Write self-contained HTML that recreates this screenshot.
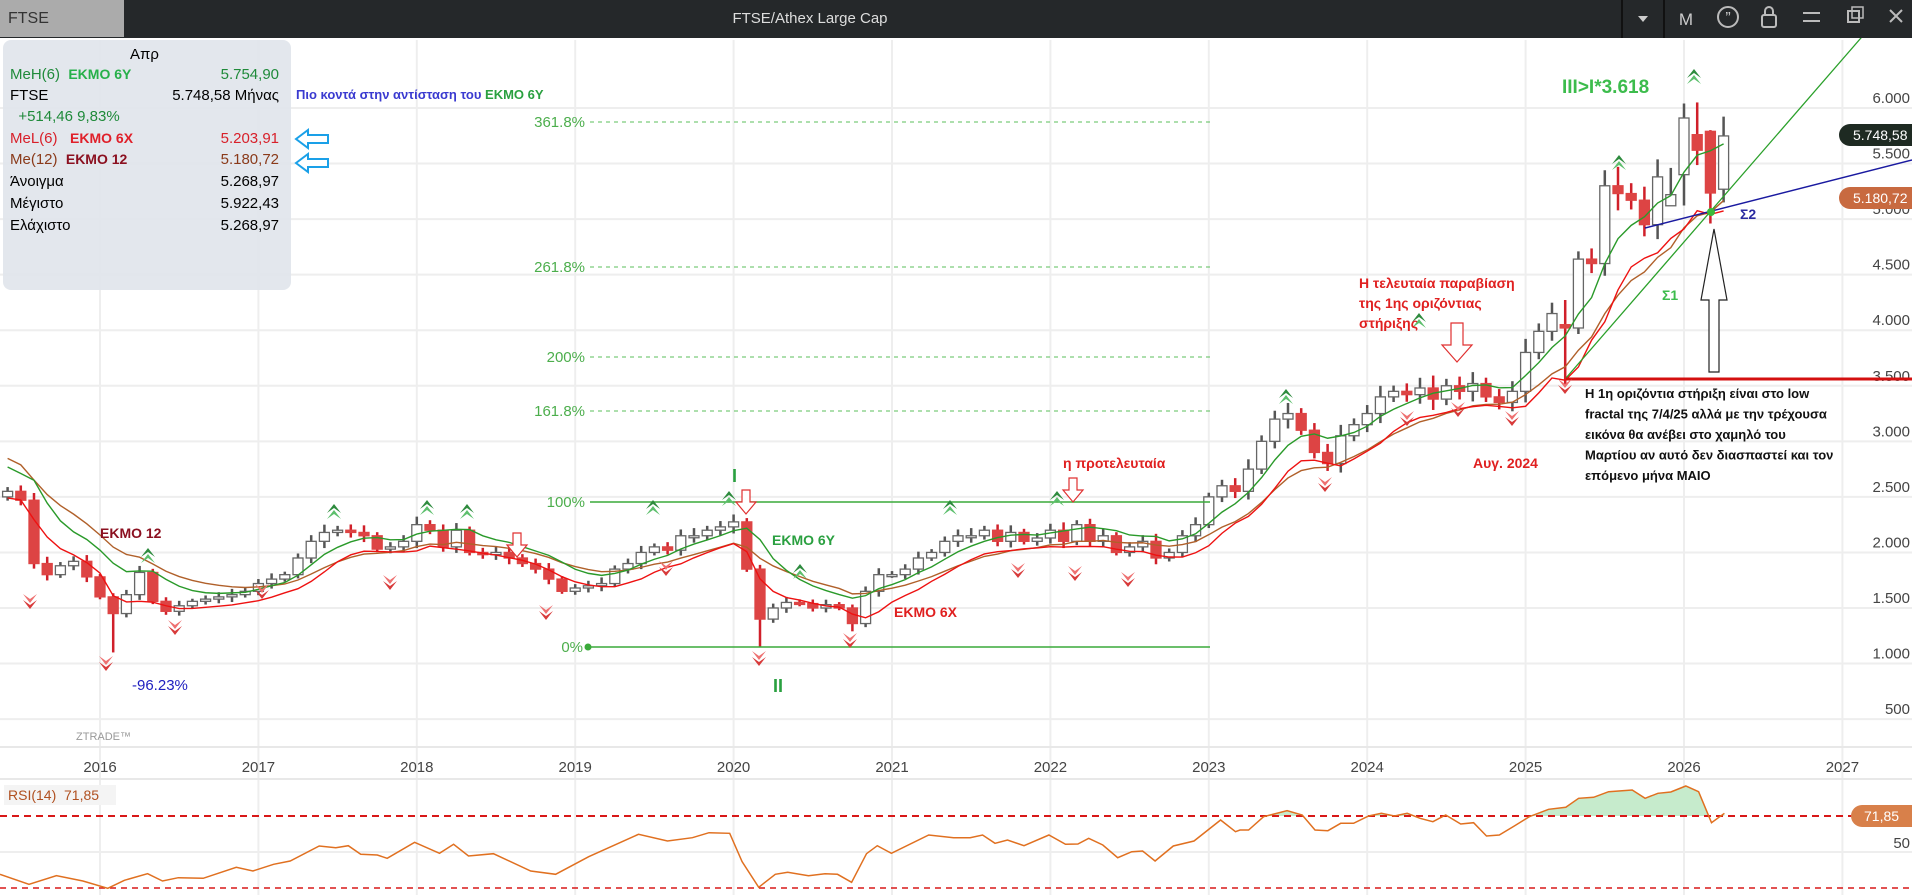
<!DOCTYPE html>
<html><head><meta charset="utf-8"><style>
html,body{margin:0;padding:0;background:#fff;width:1912px;height:895px;overflow:hidden;font-family:"Liberation Sans","DejaVu Sans",sans-serif}
#hdr{position:absolute;left:0;top:0;width:1912px;height:38px;background:#25282a}
#tab{position:absolute;left:0;top:0;width:124px;height:37px;background:#ababab;color:#333;font-size:16px;line-height:37px;padding-left:8px;box-sizing:border-box}
#ttl{position:absolute;left:0;width:1620px;top:0;text-align:center;color:#ddd;font-size:15px;line-height:38px}
#info{position:absolute;left:3px;top:40px;width:288px;height:250px;background:rgba(225,229,235,0.92);border-radius:8px;font-size:15px}
#info div{position:absolute;left:7px;right:12px;height:20px}
#info span.r{position:absolute;right:0}
svg{position:absolute;left:0;top:0}
</style></head><body>
<svg id="s" width="1912" height="895" xmlns="http://www.w3.org/2000/svg"></svg>
<div id="hdr"><div id="tab">FTSE</div><div id="ttl">FTSE/Athex Large Cap</div>
<svg width="1912" height="38" style="position:absolute;left:0;top:0">
<line x1="1622" y1="0" x2="1622" y2="38" stroke="#111" stroke-width="2"/><line x1="1664" y1="0" x2="1664" y2="38" stroke="#111" stroke-width="2"/>
<path d="M1638 16 L1648 16 L1643 22Z" fill="#ccc"/>
<text x="1686" y="25" fill="#ccc" font-size="17" text-anchor="middle">M</text>
<circle cx="1728" cy="17" r="10" fill="none" stroke="#bbb" stroke-width="2"/><text x="1728" y="23" fill="#ccc" font-size="16" text-anchor="middle">”</text>
<rect x="1762" y="15" width="14" height="12" rx="2" fill="none" stroke="#bbb" stroke-width="2"/><path d="M1765 15 v-4 a4 4 0 0 1 8 0 v4" fill="none" stroke="#bbb" stroke-width="2"/>
<line x1="1803" y1="13" x2="1820" y2="13" stroke="#bbb" stroke-width="2"/><line x1="1803" y1="21" x2="1820" y2="21" stroke="#bbb" stroke-width="2"/>
<rect x="1848" y="11" width="11" height="11" fill="none" stroke="#bbb" stroke-width="2"/><rect x="1852" y="7" width="11" height="11" fill="none" stroke="#bbb" stroke-width="1.5"/>
<path d="M1890 10 L1902 22 M1902 10 L1890 22" stroke="#bbb" stroke-width="2"/>
</svg></div>
<div id="info">
<div style="top:6px;text-align:center">Απρ</div>
<div style="top:26px;color:#1f8a3a">MeH(6) &nbsp;<b style="color:#27b04a;font-size:14px">ΕΚΜΟ 6Υ</b><span class="r">5.754,90</span></div>
<div style="top:47px">FTSE<span class="r">5.748,58 Μήνας</span></div>
<div style="top:68px;color:#1f8a3a">&nbsp;&nbsp;+514,46 9,83%</div>
<div style="top:90px;color:#d8202a">MeL(6) &nbsp;&nbsp;<b style="font-size:14px;color:#e0202a">ΕΚΜΟ 6Χ</b><span class="r">5.203,91</span></div>
<div style="top:111px;color:#8a3a1a">Me(12) &nbsp;<b style="font-size:14px;color:#8b1020">ΕΚΜΟ 12</b><span class="r">5.180,72</span></div>
<div style="top:133px">Άνοιγμα<span class="r">5.268,97</span></div>
<div style="top:155px">Μέγιστο<span class="r">5.922,43</span></div>
<div style="top:177px">Ελάχιστο<span class="r">5.268,97</span></div>
</div>
<script>
const S=document.getElementById('s');let h='';
const X=i=>100+i*13.2, Y=p=>108+(6000-p)*0.11111;
for(let p=500;p<=6000;p+=500){h+=`<line x1="0" y1="${Y(p)}" x2="1912" y2="${Y(p)}" stroke="#eeeeee" stroke-width="2"/>`;
 h+=`<text x="1910" y="${Y(p)-5}" font-size="15" fill="#444" text-anchor="end">${p>=1000?(Math.floor(p/1000)+'.'+String(p%1000).padStart(3,'0')):p}</text>`;}
for(let y=2016;y<=2027;y++){const x=X((y-2016)*12);h+=`<line x1="${x}" y1="40" x2="${x}" y2="895" stroke="#eeeeee" stroke-width="2"/>`;
 h+=`<text x="${x}" y="772" font-size="15" fill="#444" text-anchor="middle">${y}</text>`;}
h+=`<line x1="0" y1="747" x2="1912" y2="747" stroke="#e8e8e8" stroke-width="2"/><line x1="0" y1="779" x2="1912" y2="779" stroke="#e8e8e8" stroke-width="2"/><line x1="0" y1="852" x2="1912" y2="852" stroke="#eee" stroke-width="2"/>`;
h+=`<text x="1910" y="848" font-size="15" fill="#444" text-anchor="end">50</text>`;
const C=[2550,2470,1900,1800,1880,1920,1780,
1600,1450,1620,1820,1560,1470,1520,1560,1580,1600,1620,1650,
1720,1760,1800,1950,2100,2180,2200,2180,2150,2030,2050,2100,
2250,2200,2050,2200,2000,1980,2000,1950,1900,1850,1760,1650,
1680,1700,1720,1850,1900,2000,2050,2020,2150,2150,2200,2230,
2275,1850,1400,1500,1550,1540,1500,1530,1500,1360,1650,1800,
1800,1850,1950,2000,2100,2150,2150,2200,2100,2180,2100,2130,
2200,2100,2250,2100,2150,2000,2050,2100,1950,2000,2150,2250,
2500,2600,2550,2750,3000,3200,3250,3100,2900,2800,3050,3150,
3250,3400,3450,3420,3480,3380,3500,3450,3520,3400,3350,3450,
3800,3990,4150,4020,4640,4600,5300,5230,5170,4950,5380,5220,
5910,5620,5235,5748.58];
const st=-7,O=[],H=[],L=[];
for(let k=0;k<C.length;k++){let o=k?C[k-1]:2500;O.push(o);const r=Math.max(o,C[k]),m=Math.min(o,C[k]);
 const f=0.015+0.02*((k*37)%7)/7;H.push(r*(1+f));L.push(m*(1-f*0.9));}
const idx=(y,mo)=>(y-2016)*12+mo-1-st;
L[idx(2016,2)]=1100;L[idx(2020,3)]=1150;L[idx(2020,10)]=1290;L[idx(2025,4)]=3500;O[idx(2025,4)]=4050;
O[idx(2025,12)]=5120;O[idx(2026,1)]=5400;O[idx(2026,2)]=5760;H[idx(2026,2)]=6050;O[idx(2026,3)]=5790;L[idx(2026,3)]=4960;O[idx(2026,4)]=5268.97;H[idx(2026,4)]=5922;H[idx(2026,1)]=6040;
for(let k=0;k<C.length;k++){const x=X(k+st),o=O[k],c=C[k],up=c>=o;const col=up?'#555':'#d0202a';
 h+=`<line x1="${x}" y1="${Y(H[k])}" x2="${x}" y2="${Y(L[k])}" stroke="${col}" stroke-width="2.5"/>`;
 const t=Y(Math.max(o,c)),b=Y(Math.min(o,c));
 h+=`<rect x="${x-5}" y="${t}" width="10" height="${Math.max(b-t,2)}" fill="${up?'#fff':'#dd4444'}" stroke="${up?'#666':'#dd4444'}" stroke-width="1.3"/>`;}
function ema(a,n,s){const k=2/(n+1);let e=s;return a.map(v=>e=v*k+e*(1-k));}
function pl(a,col){return `<polyline fill="none" stroke="${col}" stroke-width="1.4" points="${a.map((v,i)=>X(i+st)+','+Y(v)).join(' ')}"/>`;}
const eh=ema(H,6,2900).map(v=>v*0.985),el=ema(L,6,2500),e12=ema(C,12,2900);
h+=pl(e12,'#b0602a')+pl(el,'#ee1111')+pl(eh,'#2a9a2a');
const fl=[[122,'361.8%'],[267,'261.8%'],[357,'200%'],[411,'161.8%']];
fl.forEach(f=>{h+=`<line x1="590" y1="${f[0]}" x2="1210" y2="${f[0]}" stroke="#5bbf5b" stroke-width="1" stroke-dasharray="4,4"/><text x="585" y="${f[0]+5}" font-size="15" fill="#4cae4c" text-anchor="end">${f[1]}</text>`;});
h+=`<line x1="590" y1="502" x2="1210" y2="502" stroke="#3aaa3a" stroke-width="1.5"/><text x="585" y="507" font-size="15" fill="#4cae4c" text-anchor="end">100%</text>`;
h+=`<line x1="588" y1="647" x2="1210" y2="647" stroke="#3aaa3a" stroke-width="1.5"/><circle cx="588" cy="647" r="3.5" fill="#3aaa3a"/><text x="583" y="652" font-size="15" fill="#4cae4c" text-anchor="end">0%</text>`;
h+=`<line x1="1566" y1="378" x2="1880" y2="16" stroke="#2aa02a" stroke-width="1.3"/>`;
h+=`<line x1="1645" y1="228" x2="1912" y2="160" stroke="#1a1aa0" stroke-width="1.5"/>`;
h+=`<line x1="1566" y1="379" x2="1912" y2="379" stroke="#d41010" stroke-width="3"/>`;
h+=`<circle cx="1711" cy="212" r="4" fill="#3aba3a"/>`;
h+=`<path d="M1709 372 V300 H1701 L1714 229 L1727 300 H1719 V372Z" fill="#fff" stroke="#222" stroke-width="1.2"/>`;
h+=`<path d="M1451 323 V345 H1442 L1457 362 L1472 345 H1463 V323Z" fill="#fff" stroke="#e03030" stroke-width="1.2"/>`;
[[517,533],[746,490],[1073,478]].forEach(a=>{h+=`<path d="M${a[0]-4} ${a[1]} v12 h-6 l10 12 l10 -12 h-6 v-12Z" fill="#fff" stroke="#e03030" stroke-width="1.2"/>`;});
const up=[[148,552],[334,508],[427,504],[467,508],[653,504],[729,495],[800,568],[950,504],[1057,495],[1286,393],[1419,317],[1619,159],[1694,73]];
up.forEach(a=>{h+=`<path d="M${a[0]-7} ${a[1]+5} L${a[0]} ${a[1]-4} L${a[0]+7} ${a[1]+5} L${a[0]} ${a[1]} Z" fill="#2e8b3e"/><path d="M${a[0]-7} ${a[1]+11} L${a[0]} ${a[1]+2} L${a[0]+7} ${a[1]+11} L${a[0]} ${a[1]+6} Z" fill="#5cbf6c"/>`;});
const dn=[[30,605],[106,667],[175,631],[262,595],[390,586],[546,616],[666,572],[759,662],[850,644],[1018,574],[1075,577],[1128,583],[1325,488],[1407,422],[1458,413],[1512,422],[1565,390]];
dn.forEach(a=>{h+=`<path d="M${a[0]-7} ${a[1]-5} L${a[0]} ${a[1]+4} L${a[0]+7} ${a[1]-5} L${a[0]} ${a[1]} Z" fill="#d83a3a"/><path d="M${a[0]-7} ${a[1]-11} L${a[0]} ${a[1]-2} L${a[0]+7} ${a[1]-11} L${a[0]} ${a[1]-6} Z" fill="#ee7070"/>`;});
const T=(x,y,s,c,t,w,a)=>h+=`<text x="${x}" y="${y}" font-size="${s}" fill="${c}" font-weight="${w||'normal'}" text-anchor="${a||'start'}">${t}</text>`;
T(296,99,13,'#3a3ad0','Πιο κοντά στην αντίσταση του <tspan fill="#2aa040">ΕΚΜΟ 6Υ</tspan>','bold');
T(1562,93,19,'#3cbc4c','III&gt;I*3.618','bold');
T(1740,219,14,'#2a2aa0','Σ2','bold');T(1662,300,14,'#3cbc4c','Σ1','bold');
T(1359,288,14,'#e02020','Η τελευταία παραβίαση','bold');T(1359,308,14,'#e02020','της 1ης οριζόντιας','bold');T(1359,328,14,'#e02020','στήριξης','bold');
['Η 1η οριζόντια στήριξη είναι στο low','fractal της 7/4/25 αλλά με την τρέχουσα','εικόνα θα ανέβει στο χαμηλό του','Μαρτίου αν αυτό δεν διασπαστεί και τον','επόμενο μήνα ΜΑΙΟ'].forEach((t,i)=>T(1585,398+i*20.5,13,'#111',t,'bold'));
T(1473,468,14,'#e02020','Αυγ. 2024','bold');T(1063,468,14,'#e02020','η προτελευταία','bold');
T(100,538,14,'#8b1020','ΕΚΜΟ 12','bold');T(772,545,14,'#2aa040','ΕΚΜΟ 6Υ','bold');T(894,617,14,'#e02020','ΕΚΜΟ 6Χ','bold');
T(132,690,15,'#2020c0','-96.23%');T(732,482,18,'#2aa040','I','bold');T(773,692,18,'#2aa040','II','bold');
T(76,740,11,'#999','ZTRADE™');
[[296,139],[296,163]].forEach(a=>{h+=`<path d="M${a[0]} ${a[1]} l12 -9 v5 h20 v8 h-20 v5Z" fill="#fff" stroke="#1aa0e8" stroke-width="2"/>`;});
h+=`<path d="M1850 124 h62 v22 h-62 a11 11 0 0 1 0 -22Z" fill="#1e2a22"/>`;T(1853,140,14,'#fff','5.748,58');
h+=`<path d="M1850 187 h62 v22 h-62 a11 11 0 0 1 0 -22Z" fill="#c86a40"/>`;T(1853,203,14,'#fff','5.180,72');
const A=[[0,298],[35,328],[68,302],[100,318],[130,340],[150,316],[178,296],[196,318],[215,308],[245,310],[285,277],[305,288],[330,268],[350,258],[385,213],[405,218],[420,212],[435,238],[455,240],[467,250],[500,202],[530,235],[547,208],[565,243],[595,236],[640,288],[670,298],[710,245],[770,178],[805,198],[835,188],[855,173],[880,175],[895,260],[915,337],[935,298],[950,292],[975,302],[995,296],[1010,298],[1027,322],[1045,236],[1058,212],[1075,235],[1120,180],[1150,188],[1170,188],[1185,180],[1200,205],[1215,195],[1235,212],[1265,180],[1285,208],[1300,207],[1313,190],[1330,210],[1348,248],[1365,230],[1378,228],[1393,258],[1415,213],[1440,198],[1472,135],[1490,170],[1505,163],[1525,125]].map(p=>[p[0]/1.206,775+p[1]/3]).filter(p=>p[0]<1238);
const B=[[0,690],[20,690],[55,650],[110,632],[145,645],[175,690],[205,692],[235,670],[265,670],[300,648],[330,640],[360,648],[390,640],[420,655],[450,665],[480,645],[515,672],[545,668],[575,708],[605,705],[640,678],[675,650],[720,628],[760,622],[790,595],[825,592],[860,575],[915,570],[945,595],[975,580],[1005,576],[1040,558],[1070,575],[1100,668],[1130,640]].map(p=>[1240+p[0]/2.333,600+p[1]/3]);
const pts=A.concat(B);
const ps=pts.map(p=>p[0].toFixed(1)+','+p[1].toFixed(1)).join(' ');
h+=`<clipPath id="cp"><rect x="0" y="779" width="1912" height="37"/></clipPath>`;
h+=`<polygon clip-path="url(#cp)" fill="#c6ebcc" points="${pts[0][0]},816 ${ps} ${pts[pts.length-1][0]},816"/>`;
h+=`<line x1="0" y1="816" x2="1912" y2="816" stroke="#d81818" stroke-width="2" stroke-dasharray="7,5"/><line x1="0" y1="888" x2="1912" y2="888" stroke="#d81818" stroke-width="1.5" stroke-dasharray="6,5"/>`;
h+=`<polyline fill="none" stroke="#e07020" stroke-width="1.5" points="${ps}"/>`;
h+=`<path d="M1862 805 h50 v22 h-50 a11 11 0 0 1 0 -22Z" fill="#d8804a"/>`;T(1864,821,14,'#fff','71,85');
h+=`<rect x="4" y="785" width="112" height="20" fill="#f4f4f4"/>`;T(8,800,14,'#b05020','RSI(14) &#160;71,85');
S.innerHTML=h;
</script>
</body></html>
